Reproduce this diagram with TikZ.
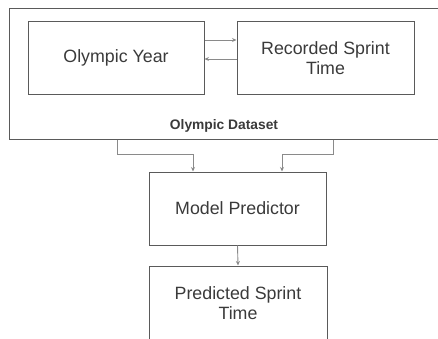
\documentclass[tikz,border=0pt]{standalone}
\usepackage{fontspec}
\setmainfont{Liberation Sans}
\usetikzlibrary{arrows.meta}
\definecolor{boxline}{HTML}{5A5A5A}
\definecolor{conn}{HTML}{8A8A8A}
\definecolor{txt}{HTML}{3A3A3A}
\begin{document}
\begin{tikzpicture}[x=1pt,y=1pt,
  box/.style={draw=boxline, line width=1pt, inner sep=0pt, align=center, text=txt,
    font=\fontsize{17.8}{20.5}\selectfont},
  link/.style={draw=conn, line width=0.9pt, -{Stealth[length=4.5pt,width=4pt]}}]
\clip (0,0) rectangle (438,338);
\useasboundingbox (0,0) rectangle (438,338);
\node[box, minimum width=436, minimum height=130] (ds) at (227,264) {};
\node[text=txt, font=\fontsize{13.8}{16}\selectfont\bfseries] (dslabel) at (224,212) {Olympic Dataset};
\node[box, minimum width=176, minimum height=72] (oy) at (116,280) {Olympic Year};
\node[box, minimum width=177, minimum height=72] (rs) at (325.5,280) {Recorded Sprint\\Time};
\node[box, minimum width=177, minimum height=73] (mp) at (237.5,129.5) {Model Predictor};
\node[box, minimum width=178, minimum height=74] (ps) at (238,35) {Predicted Sprint\\Time};
\draw[link] ([yshift=18]oy.east) -- ([yshift=18]rs.west);
\draw[link] ([yshift=-1]rs.west) -- ([yshift=-1]oy.east);
\draw[link] ([xshift=-110]ds.south) -- ++(0,-15) -| ([xshift=-44.5]mp.north);
\draw[link] ([xshift=106]ds.south) -- ++(0,-15) -| ([xshift=44.5]mp.north);
\draw[link] (mp.south) -- (ps.north);
\end{tikzpicture}
\end{document}
